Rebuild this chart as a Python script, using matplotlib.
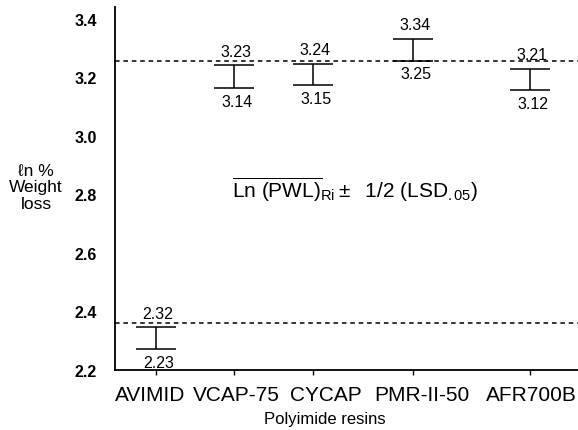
import matplotlib
matplotlib.use("Agg")
import matplotlib.pyplot as plt

plt.rcParams['font.family'] = ['Liberation Sans', 'DejaVu Sans']
plt.rcParams['mathtext.fontset'] = 'custom'
plt.rcParams['mathtext.rm'] = 'Liberation Sans'
plt.rcParams['mathtext.it'] = 'Liberation Sans:italic'
plt.rcParams['mathtext.bf'] = 'Liberation Sans:bold'

# data
resins = ["AVIMID", "VCAP-75", "CYCAP", "PMR-II-50", "AFR700B"]
# printed interval limits (labels)
upper = [2.32, 3.23, 3.24, 3.34, 3.21]
lower = [2.23, 3.14, 3.15, 3.25, 3.12]
# interval ends as drawn in the figure
cap_top = [2.346, 3.241, 3.246, 3.332, 3.229]
cap_bottom = [2.272, 3.163, 3.173, 3.257, 3.155]
ref_lines = [3.255, 2.36]
yticks = [2.2, 2.4, 2.6, 2.8, 3.0, 3.2, 3.4]

# layout
x_pos = [156, 234, 313, 413, 530]
label_x = [150, 236, 326, 422, 531]

W, H = 578, 431
fig = plt.figure(figsize=(W / 100, H / 100), dpi=100)
ax = fig.add_axes([115 / W, (H - 371) / H, (W - 115) / W, (371 - 8) / H])

centers = [(u + l) / 2 for u, l in zip(cap_top, cap_bottom)]
half = [(u - l) / 2 for u, l in zip(cap_top, cap_bottom)]
ax.errorbar(x_pos, centers, yerr=half, fmt='none', ecolor='black',
            elinewidth=1.1, capsize=14.5, capthick=1.1)

for y in ref_lines:
    ax.axhline(y, color='black', lw=1.1, linestyle=(0, (3, 2.5)))

for x, t, b, u, l in zip(x_pos, cap_top, cap_bottom, upper, lower):
    ax.annotate(f"{u:.2f}", (x, t), xytext=(1.5, 10), textcoords='offset points',
                ha='center', va='center', fontsize=11.5)
    ax.annotate(f"{l:.2f}", (x, b), xytext=(2, -9.5), textcoords='offset points',
                ha='center', va='center', fontsize=11.5)

ax.set_xlim(115, 578)
ax.set_ylim(2.2, 3.44)
ax.set_yticks(yticks)
ax.set_yticklabels([f"{t:.1f}" for t in yticks], fontsize=11.5, fontweight='bold')
ax.tick_params(axis='y', length=0, pad=13)
ax.set_xticks(x_pos)
ax.set_xticklabels([])
ax.tick_params(axis='x', which='major', length=3.5, width=1, direction='out')
ax.set_xticks(label_x, minor=True)
ax.set_xticklabels(resins, minor=True, fontsize=15)
ax.tick_params(axis='x', which='minor', length=0, pad=11)

for s in ['top', 'right']:
    ax.spines[s].set_visible(False)
for s in ['left', 'bottom']:
    ax.spines[s].set_linewidth(1.3)

fig.text(325 / W, 1 - 420 / H, "Polyimide resins", ha='center', va='center',
         fontsize=12)

fig.text(36 / W, 1 - 188 / H, "\u2113n %\nWeight\nloss", ha='center', va='center',
         fontsize=12.5, linespacing=1.15)

ax.text(355, 2.82,
        r'$\overline{\mathrm{Ln\ (PWL)}}_{\mathrm{Ri}}\pm\ \ \mathrm{1/2\ (LSD}_{\mathrm{.05}}\mathrm{)}$',
        ha='center', va='center', fontsize=15)

fig.savefig("out.png", dpi=100)
